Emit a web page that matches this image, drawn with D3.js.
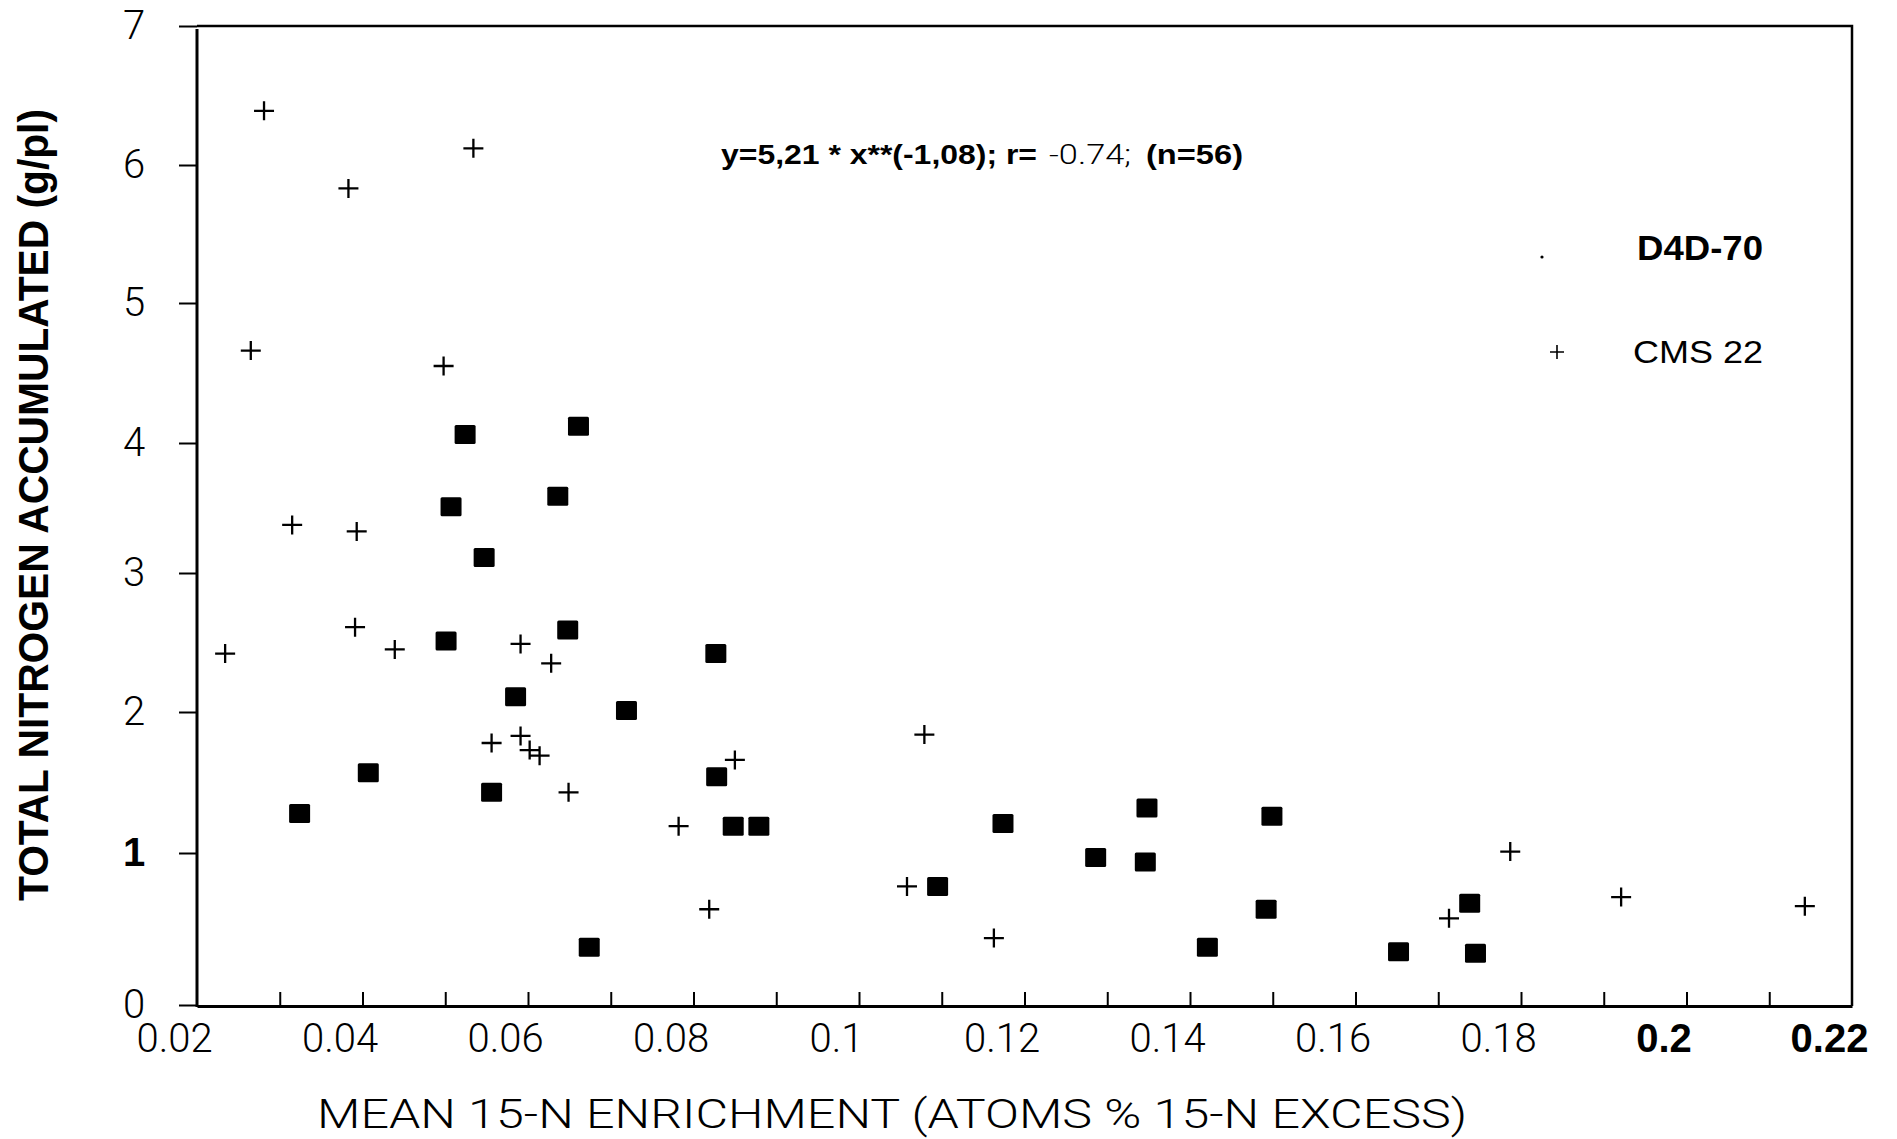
<!DOCTYPE html>
<html>
<head>
<meta charset="utf-8">
<script src="https://cdn.jsdelivr.net/npm/d3@7/dist/d3.min.js"></script>
<style>
  body { margin: 0; background: #fff; }
  .light { font-family: Roboto, "Liberation Sans", sans-serif; font-weight: 300; fill: #000; }
  .bold { font-family: "Liberation Sans", Arial, sans-serif; font-weight: bold; fill: #000; }
  .regular { font-family: "Liberation Sans", Arial, sans-serif; font-weight: normal; fill: #000; }
</style>
</head>
<body>
<script>
// series D4D-70 (filled squares)
var d4dX = [0.0524, 0.0661, 0.0507, 0.0636, 0.0547, 0.0501, 0.0648, 0.0827, 0.0585, 0.0719,
            0.0407, 0.0324, 0.0556, 0.0828, 0.0848, 0.0879, 0.0674, 0.1095, 0.1174, 0.1286,
            0.1348, 0.1346, 0.1499, 0.1421, 0.1492, 0.1652, 0.1738, 0.1745];
var d4dY = [4.06, 4.12, 3.51, 3.59, 3.12, 2.51, 2.59, 2.42, 2.11, 2.01,
            1.57, 1.28, 1.43, 1.54, 1.19, 1.19, 0.38, 0.78, 1.21, 0.97,
            1.32, 0.94, 1.26, 0.38, 0.63, 0.35, 0.67, 0.34];

// series CMS 22 (plus signs)
var cmsX = [0.0281, 0.0534, 0.0383, 0.0265, 0.0498, 0.0315, 0.0393, 0.0234, 0.0391, 0.0439,
            0.0591, 0.0628, 0.0556, 0.0591, 0.0602, 0.0614, 0.0850, 0.0649, 0.0782, 0.1079,
            0.0819, 0.1058, 0.1163, 0.1713, 0.1787, 0.1921, 0.2143];
var cmsY = [6.39, 6.12, 5.83, 4.66, 4.55, 3.37, 3.32, 2.42, 2.61, 2.45,
            2.49, 2.35, 1.78, 1.83, 1.73, 1.69, 1.66, 1.43, 1.19, 1.84,
            0.63, 0.78, 0.44, 0.57, 1.01, 0.71, 0.65];

// axis ticks and labels
var xTickValues = [0.03, 0.04, 0.05, 0.06, 0.07, 0.08, 0.09, 0.10, 0.11, 0.12,
                   0.13, 0.14, 0.15, 0.16, 0.17, 0.18, 0.19, 0.20, 0.21];
var xLabelValues = [0.02, 0.04, 0.06, 0.08, 0.10, 0.12, 0.14, 0.16, 0.18, 0.20, 0.22];
var xLabels = ["0.02", "0.04", "0.06", "0.08", "0.1", "0.12", "0.14", "0.16", "0.18", "0.2", "0.22"];
var xBoldLabels = ["0.2", "0.22"];
var yTickValues = [0, 1, 2, 3, 4, 5, 6, 7];
var yLabels = ["0", "1", "2", "3", "4", "5", "6", "7"];
var yBoldLabels = ["1"];

var seriesNames = ["D4D-70", "CMS 22"];
var fitText = ["y=5,21 * x**(-1,08); r=", "-0.74;", "(n=56)"];
var xTitle = "MEAN 15-N ENRICHMENT (ATOMS % 15-N EXCESS)";
var yTitle = "TOTAL NITROGEN ACCUMULATED (g/pl)";

window.onload = drawChart();

function drawChart(){
    var width = 1897,
        height = 1139;

    var svg = d3.select("body")
        .append("svg")
        .attr("width", width)
        .attr("height", height);

    svg.append("rect")
        .attr("width", width)
        .attr("height", height)
        .attr("fill", "#fff");

    //plot frame edges
    var left = 197, right = 1852, top = 26, bottom = 1005;

    var x = d3.scaleLinear()
        .domain([0.02, 0.22])
        .range([left, right]);

    //the scanned axis is slightly uneven, follow its tick positions
    var y = d3.scaleLinear()
        .domain(yTickValues)
        .range([1005, 853, 712, 573, 443, 303, 165, top]);

    //frame: top and right lines
    svg.append("path")
        .attr("d", "M" + left + "," + top + "H" + right + "V" + (bottom + 1))
        .attr("fill", "none")
        .attr("stroke", "#000")
        .attr("stroke-width", 2.5);

    //x axis with inner ticks
    var xAxis = svg.append("g")
        .attr("transform", "translate(0," + (bottom + 1) + ")")
        .call(d3.axisBottom(x)
            .tickValues(xTickValues)
            .tickSize(-14)
            .tickSizeOuter(0)
            .tickFormat(""));
    xAxis.select(".domain").attr("stroke-width", 3);
    xAxis.selectAll(".tick line").attr("stroke-width", 2);

    //x tick labels sit a little to the left of their ticks
    var xLab = svg.append("g")
        .attr("transform", "translate(-23," + (bottom + 1) + ")")
        .call(d3.axisBottom(x)
            .tickValues(xLabelValues)
            .tickSize(0)
            .tickPadding(46)
            .tickFormat(function(d, i){ return xLabels[i]; }));
    xLab.select(".domain").remove();
    xLab.selectAll("text")
        .attr("class", function(d, i){ return xBoldLabels.indexOf(xLabels[i]) >= 0 ? "bold" : "light"; })
        .attr("font-size", 40)
        .attr("font-family", null)
        .attr("dy", 0);

    //y axis
    var yAxis = svg.append("g")
        .attr("transform", "translate(" + left + ",0)")
        .call(d3.axisLeft(y)
            .tickValues(yTickValues)
            .tickSize(18)
            .tickSizeOuter(0)
            .tickPadding(40)
            .tickFormat(function(d, i){ return yLabels[i]; }));
    yAxis.select(".domain")
        .attr("d", "M0," + (top + 3) + "V" + (bottom + 2))
        .attr("stroke-width", 3);
    yAxis.selectAll(".tick line").attr("stroke-width", 2);
    yAxis.selectAll("text")
        .attr("class", function(d, i){ return yBoldLabels.indexOf(yLabels[i]) >= 0 ? "bold" : "light"; })
        .attr("font-size", 40)
        .attr("font-family", null)
        .attr("text-anchor", "middle")
        .attr("x", -63)
        .attr("dy", "0.3em");

    //D4D-70 squares
    svg.selectAll(".sq")
        .data(d4dX)
        .enter()
        .append("rect")
        .attr("class", "sq")
        .attr("x", function(d){ return x(d) - 10.5; })
        .attr("y", function(d, i){ return y(d4dY[i]) - 9.5; })
        .attr("width", 21)
        .attr("height", 19)
        .attr("rx", 1.5)
        .attr("fill", "#000");

    //CMS 22 plus signs
    svg.selectAll(".plus")
        .data(cmsX)
        .enter()
        .append("path")
        .attr("class", "plus")
        .attr("transform", function(d, i){ return "translate(" + x(d) + "," + y(cmsY[i]) + ")"; })
        .attr("d", "M-10,0H10M0,-9.5V9.5")
        .attr("stroke", "#000")
        .attr("stroke-width", 2.3)
        .attr("fill", "none");

    //legend
    svg.append("circle")
        .attr("cx", 1542)
        .attr("cy", 257)
        .attr("r", 1.6)
        .attr("fill", "#000");
    svg.append("text")
        .attr("class", "bold")
        .attr("x", 1637)
        .attr("y", 260)
        .attr("font-size", 35)
        .attr("textLength", 126)
        .attr("lengthAdjust", "spacingAndGlyphs")
        .text(seriesNames[0]);
    svg.append("path")
        .attr("transform", "translate(1557,352)")
        .attr("d", "M-7,0H7M0,-7V7")
        .attr("stroke", "#000")
        .attr("stroke-width", 1.6);
    svg.append("text")
        .attr("class", "regular")
        .attr("x", 1633)
        .attr("y", 363)
        .attr("font-size", 32)
        .attr("textLength", 130)
        .attr("lengthAdjust", "spacingAndGlyphs")
        .text(seriesNames[1]);

    //fit equation
    svg.append("text")
        .attr("class", "bold")
        .attr("x", 721)
        .attr("y", 164)
        .attr("font-size", 27)
        .attr("textLength", 316)
        .attr("lengthAdjust", "spacingAndGlyphs")
        .text(fitText[0]);
    svg.append("text")
        .attr("class", "light")
        .attr("x", 1049)
        .attr("y", 164)
        .attr("font-size", 27)
        .attr("textLength", 82)
        .attr("lengthAdjust", "spacingAndGlyphs")
        .text(fitText[1]);
    svg.append("text")
        .attr("class", "bold")
        .attr("x", 1146)
        .attr("y", 164)
        .attr("font-size", 27)
        .attr("textLength", 97)
        .attr("lengthAdjust", "spacingAndGlyphs")
        .text(fitText[2]);

    //axis titles
    svg.append("text")
        .attr("class", "light")
        .attr("x", 317)
        .attr("y", 1128)
        .attr("font-size", 41)
        .attr("textLength", 1150)
        .attr("lengthAdjust", "spacingAndGlyphs")
        .text(xTitle);

    svg.append("text")
        .attr("class", "bold")
        .attr("transform", "translate(48,901) rotate(-90)")
        .attr("font-size", 42)
        .attr("textLength", 792)
        .attr("lengthAdjust", "spacingAndGlyphs")
        .text(yTitle);
}
</script>
</body>
</html>
